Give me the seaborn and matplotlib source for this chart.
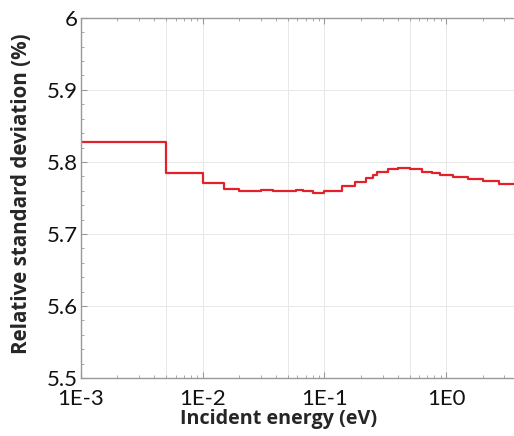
import numpy as np
import pandas as pd
import seaborn as sns
import matplotlib.pyplot as plt
from matplotlib.ticker import LogLocator, FixedLocator, FuncFormatter, MultipleLocator

# step curve (left edge of each step, last point closes the curve)
energy = [1e-3, 5e-3, 1e-2, 1.5e-2, 2e-2, 3e-2, 3.8e-2, 5.8e-2, 6.7e-2, 8e-2, 1e-1,
          1.4e-1, 1.8e-1, 2.2e-1, 2.5e-1, 2.7e-1, 3.3e-1, 4e-1, 5e-1, 6.3e-1, 7.7e-1,
          8.9e-1, 1.14, 1.5, 2.0, 2.7, 3.6]
rsd = [5.828, 5.784, 5.771, 5.7625, 5.760, 5.7615, 5.760, 5.7612, 5.760, 5.7575, 5.760,
       5.7667, 5.7726, 5.778, 5.782, 5.7857, 5.7898, 5.792, 5.790, 5.7865, 5.784,
       5.782, 5.779, 5.776, 5.773, 5.7694, 5.7694]

x_ticks = [1e-3, 1e-2, 1e-1, 1e0]
x_ticklabels = ['1E-3', '1E-2', '1E-1', '1E0']
x_grid_extra = [5e-3, 5e-2, 5e-1]
y_ticks = [5.5, 5.6, 5.7, 5.8, 5.9, 6.0]
y_ticklabels = ['5.5', '5.6', '5.7', '5.8', '5.9', '6']

df = pd.DataFrame({'energy': energy, 'rsd': rsd})

sns.set_style('white')
plt.rcParams['font.family'] = ['Lato', 'DejaVu Sans']

fig = plt.figure(figsize=(5.14, 4.36), dpi=100)
ax = fig.add_axes([0.157, 0.133, 0.843, 0.826])

sns.lineplot(data=df, x='energy', y='rsd', drawstyle='steps-post', color='#e3212b',
             linewidth=1.6, estimator=None, sort=False, ax=ax)

ax.set_xscale('log')
ax.set_xlim(1e-3, 3.6)
ax.set_ylim(5.5, 6.0)

# light grid: decades plus the 5x lines, and the inner y ticks
grid_kw = dict(color='#e8e8e8', linewidth=0.7, zorder=0)
for v in x_ticks + x_grid_extra:
    ax.axvline(v, **grid_kw)
for v in y_ticks[1:-1]:
    ax.axhline(v, **grid_kw)

ax.xaxis.set_major_locator(FixedLocator(x_ticks))
ax.xaxis.set_major_formatter(FuncFormatter(lambda v, p: x_ticklabels[x_ticks.index(v)] if v in x_ticks else ''))
ax.xaxis.set_minor_locator(LogLocator(base=10, subs=np.arange(2, 10)))
ax.xaxis.set_minor_formatter(FuncFormatter(lambda v, p: ''))
ax.yaxis.set_major_locator(FixedLocator(y_ticks))
ax.set_yticklabels(y_ticklabels)
ax.yaxis.set_minor_locator(MultipleLocator(0.02))

ax.tick_params(which='both', direction='in', color='#999999', top=True, left=True,
               bottom=True, right=False, labelsize=16, labelcolor='#111111')
ax.tick_params(axis='x', which='major', pad=8)
ax.tick_params(axis='y', which='major', pad=2)
ax.tick_params(which='major', length=4, width=0.8)
ax.tick_params(which='minor', length=2.5, width=0.6)

for side in ['left', 'bottom', 'top']:
    ax.spines[side].set_color('#999999')
    ax.spines[side].set_linewidth(1.0)
ax.spines['right'].set_visible(False)

ax.set_xlabel('Incident energy (eV)', fontsize=14.2, fontweight='bold',
              family=['Open Sans', 'DejaVu Sans'])
ax.set_ylabel('Relative standard deviation (%)', fontsize=14.8, fontweight='bold',
              family=['Open Sans', 'DejaVu Sans'])
ax.xaxis.set_label_coords(0.456, -0.086)
ax.yaxis.set_label_coords(-0.113, 0.511)

fig.savefig('out.png', dpi=100)
